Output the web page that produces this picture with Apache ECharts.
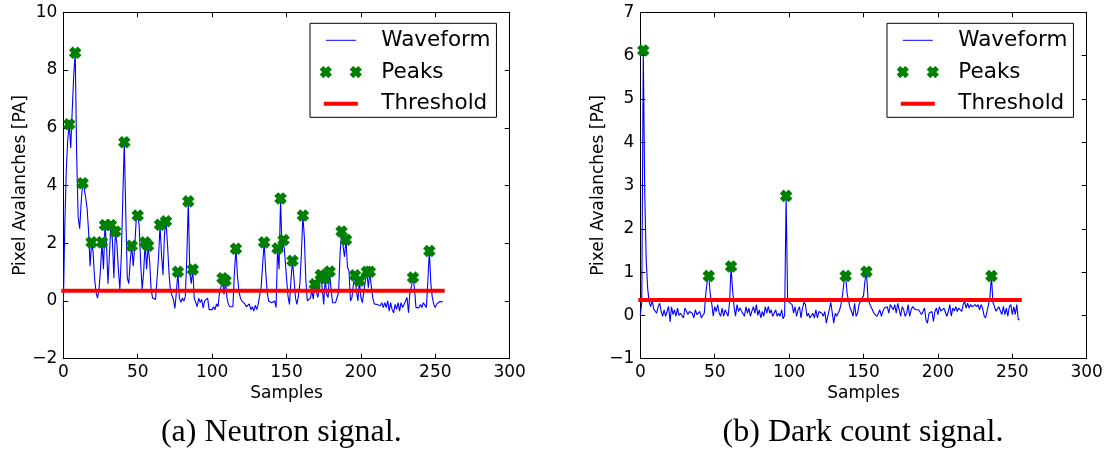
<!DOCTYPE html>
<html>
<head>
<meta charset="utf-8">
<script src="https://cdn.jsdelivr.net/npm/echarts@6/dist/echarts.min.js"></script>
<style>
html,body{margin:0;padding:0;background:#fff;}
#chart{width:1111px;height:451px;}
</style>
</head>
<body>
<div id="chart"></div>
<script>
// ---------- DATA ----------
// (a) Neutron signal waveform, samples 0..255
const neutronWave = [
  -0.3, 2.6, 4.5, 5.6, 6.12, 5.3, 6.6, 7.8, 8.6, 5.0,
  2.9, 2.5, 3.4, 4.08, 3.9, 3.6, 3.2, 2.4, 1.2, 2.03,
  1.7, 0.8, 0.3, 0.1, 0.4, 1.1, 2.03, 1.1, 2.63, 2.0,
  0.6, 1.6, 2.63, 2.1, 0.8, 2.41, 2.0, 1.1, 0.4, 1.6,
  3.6, 5.5, 3.0, 0.8, 0.6, 1.4, 1.91, 1.2, 1.9, 2.8,
  2.96, 2.6, 1.3, 0.4, 1.0, 2.03, 1.1, 1.91, 1.4, 0.4,
  0.1, 0.05, 0.05, 0.1, 1.5, 2.64, 1.6, 0.9, 2.3, 2.76,
  2.0, 1.0, 0.35, 0.2, 0.05, -0.26, 0.3, 1.01, 0.1, -0.05,
  0.1, 0.0, 0.15, 1.5, 3.45, 1.0, 0.6, 1.09, 0.1, 0.05,
  -0.2, 0.1, -0.05, 0.05, -0.25, 0.0, -0.05, 0.1, -0.3, -0.25,
  -0.3, -0.2, -0.3, -0.1, -0.2, 0.3, 0.5, 0.79, 0.23, 0.7,
  0.1, -0.12, -0.2, -0.25, -0.2, 1.0, 1.81, 0.9, 0.35, 0.1,
  0.0, -0.05, -0.1, -0.2, -0.25, -0.1, -0.3, -0.2, -0.35, -0.15,
  -0.3, -0.1, -0.1, 0.5, 1.3, 2.03, 1.04, 0.3, 0.0, -0.05,
  -0.06, -0.1, 0.0, -0.23, 1.82, 1.1, 3.55, 1.7, 2.11, 1.5,
  0.81, 0.17, -0.12, 0.7, 1.39, 0.81, 0.12, -0.12, 0.17, 0.6,
  1.62, 2.96, 2.2, 0.7, 0.0, -0.06, 0.1, 0.35, 0.06, 0.58,
  0.35, 0.12, 0.4, 0.9, 0.46, -0.12, 0.79, 0.23, 0.12, 1.02,
  0.35, -0.06, -0.12, -0.06, 0.12, 0.3, 1.62, 2.41, 1.9, 1.53,
  2.12, 1.16, 1.04, 0.0, 0.12, 0.6, 0.89, 0.35, 0.0, 0.70,
  0.12, -0.06, 0.35, 0.7, 1.01, 0.46, 1.01, 0.5, 0.1, -0.1,
  -0.15, -0.12, -0.12, -0.17, -0.06, -0.23, -0.06, -0.23, 0.0, -0.35,
  -0.06, -0.3, -0.41, -0.12, -0.29, -0.06, -0.35, -0.06, -0.23, -0.12,
  -0.06, 0.12, -0.41, 0.35, 0.5, 0.81, 0.45, -0.23, -0.17, -0.23,
  -0.12, -0.23, -0.06, -0.06, -0.23, 0.7, 1.73, 0.6, 0.12, -0.12,
  -0.23, -0.1, -0.06, -0.02, -0.03, -0.03
];
const neutronPeakIdx = [4, 8, 13, 19, 26, 28, 32, 35, 41, 46, 50, 55, 57, 65, 69, 77, 84, 87,
  107, 109, 116, 135, 144, 146, 148, 154, 161, 169, 173, 176, 179, 187, 190, 196, 199, 204, 206, 235, 246];
const neutronThreshold = 0.35;

// (b) Dark count signal waveform, samples 0..255
const darkWave = [
  0.0, 0.3, 6.12, 2.8, 1.25, 0.6, 0.3, 0.2, 0.36, 0.15,
  0.17, 0.05, 0.2, 0.28, 0.1, -0.02, 0.13, -0.02, 0.09, 0.21,
  -0.15, 0.2, 0.02, 0.13, -0.02, 0.17, 0.0, 0.05, 0.05, -0.06,
  0.17, 0.2, 0.02, 0.09, 0.05, 0.05, -0.06, 0.13, 0.02, 0.05,
  0.09, -0.06, 0.0, 0.05, 0.5, 0.8, 0.91, 0.5, 0.28, -0.02,
  0.2, 0.09, 0.25, 0.05, -0.02, 0.17, -0.02, 0.13, 0.09, -0.02,
  0.3, 1.13, 0.6, 0.2, -0.02, 0.25, 0.09, 0.17, 0.1, 0.13,
  -0.02, 0.2, 0.05, 0.17, -0.02, 0.1, 0.2, 0.05, 0.25, 0.0,
  0.13, -0.06, 0.09, -0.02, 0.2, 0.05, 0.21, 0.05, 0.13, -0.02,
  0.05, 0.13, -0.02, 0.05, -0.02, 0.13, -0.08, 0.0, 2.76, 0.36,
  0.3, 0.28, 0.25, 0.05, 0.2, -0.02, 0.13, 0.2, -0.06, 0.17,
  0.3, 0.25, -0.02, 0.05, -0.06, -0.02, 0.05, -0.06, 0.13, -0.06,
  0.09, 0.13, 0.05, -0.02, 0.09, -0.18, -0.02, 0.13, 0.3, 0.32,
  -0.18, 0.05, -0.02, -0.06, 0.13, 0.28, 0.5, 0.8, 0.91, 0.5,
  0.33, 0.17, 0.09, -0.02, 0.28, -0.02, 0.05, 0.25, 0.32, 0.4,
  0.45, 0.8, 1.01, 0.4, 0.28, 0.2, 0.13, 0.05, 0.09, -0.02,
  0.05, 0.13, -0.02, 0.09, 0.17, 0.13, 0.2, 0.05, 0.25, 0.28,
  0.13, 0.25, 0.05, 0.28, 0.13, -0.02, 0.2, 0.13, -0.02, 0.05,
  0.25, -0.02, 0.13, 0.2, 0.17, 0.13, 0.09, 0.13, 0.13, 0.02,
  0.09, 0.17, -0.1, -0.18, 0.05, 0.09, 0.09, -0.14, 0.09, 0.17,
  0.02, 0.2, 0.1, 0.13, 0.17, 0.15, -0.02, 0.09, 0.25, -0.02,
  0.17, 0.1, 0.2, 0.09, 0.17, 0.13, 0.09, 0.25, 0.32, 0.17,
  0.28, 0.17, 0.25, 0.2, 0.17, 0.25, 0.2, 0.25, 0.13, 0.25,
  0.17, 0.0, -0.06, 0.09, 0.25, 0.44, 0.91, 0.3, 0.2, 0.1,
  0.09, 0.2, 0.1, 0.02, 0.21, 0.02, 0.17, -0.02, 0.2, 0.25,
  0.02, 0.2, 0.02, 0.25, -0.1, -0.1
];
const darkPeakIdx = [2, 46, 61, 98, 138, 152, 236];
const darkThreshold = 0.355;

// axis ticks and labels
const xTickValues = [0, 50, 100, 150, 200, 250, 300];
const xTickLabels = ['0', '50', '100', '150', '200', '250', '300'];
const yTickValuesA = [-2, 0, 2, 4, 6, 8, 10];
const yTickLabelsA = ['\u22122', '0', '2', '4', '6', '8', '10'];
const yTickValuesB = [-1, 0, 1, 2, 3, 4, 5, 6, 7];
const yTickLabelsB = ['\u22121', '0', '1', '2', '3', '4', '5', '6', '7'];
const seriesNames = ['Waveform', 'Peaks', 'Threshold'];
const xAxisTitle = 'Samples';
const yAxisTitle = 'Pixel Avalanches [PA]';
const captions = ['(a) Neutron signal.', '(b) Dark count signal.'];

// ---------- STYLE / LAYOUT ----------
const FONT = 'DejaVu Sans';
const GRIDS = [
  {left: 63.3, top: 12.3, width: 446.4, height: 346.4},
  {left: 640.3, top: 12.3, width: 446.4, height: 346.4}
];
const X_MARK = 'path://M2.5,0 L5,2.5 L7.5,0 L10,2.5 L7.5,5 L10,7.5 L7.5,10 L5,7.5 L2.5,10 L0,7.5 L2.5,5 L0,2.5 Z';
const ICON_WAVE = 'path://M0,0 M56,14 M5.5,6.5 L35.5,6.5 L35.5,7.5 L5.5,7.5 Z';
const ICON_PEAKS = 'path://M0,0 M56,14 M3,2 L5.5,4.5 L8,2 L10.5,4.5 L8,7 L10.5,9.5 L8,12 L5.5,9.5 L3,12 L0.5,9.5 L3,7 L0.5,4.5 Z ' +
  'M33,2 L35.5,4.5 L38,2 L40.5,4.5 L38,7 L40.5,9.5 L38,12 L35.5,9.5 L33,12 L30.5,9.5 L33,7 L30.5,4.5 Z';
const ICON_TH = 'path://M0,0 M56,14 M3.5,5 L37.5,5 L37.5,9 L3.5,9 Z';

function lookup(vals, labels) {
  return function (v) {
    for (let i = 0; i < vals.length; i++) if (Math.abs(vals[i] - v) < 1e-9) return labels[i];
    return '';
  };
}
function rangeOf(vals) {
  return {min: vals[0], max: vals[vals.length - 1], interval: vals[1] - vals[0]};
}

function makeX(grid, main) {
  const r = rangeOf(xTickValues);
  return {
    type: 'value', gridIndex: grid, position: main ? 'bottom' : 'top',
    min: r.min, max: r.max, interval: r.interval,
    axisLine: {show: true, onZero: false, lineStyle: {color: '#000', width: 1}},
    axisTick: {show: true, inside: true, length: 5, lineStyle: {color: '#000', width: 1}},
    splitLine: {show: false}, minorTick: {show: false},
    axisLabel: {show: main, color: '#000', fontSize: 17, fontFamily: FONT, margin: 5,
      showMinLabel: true, showMaxLabel: true, hideOverlap: false,
      formatter: lookup(xTickValues, xTickLabels)},
    name: main ? xAxisTitle : '', nameLocation: 'middle', nameGap: 26, nameMoveOverlap: false,
    nameTextStyle: {color: '#000', fontSize: 17, fontFamily: FONT}
  };
}
function makeY(grid, main, vals, labels) {
  const r = rangeOf(vals);
  return {
    type: 'value', gridIndex: grid, position: main ? 'left' : 'right',
    min: r.min, max: r.max, interval: r.interval,
    axisLine: {show: true, onZero: false, lineStyle: {color: '#000', width: 1}},
    axisTick: {show: true, inside: true, length: 5, lineStyle: {color: '#000', width: 1}},
    splitLine: {show: false}, minorTick: {show: false},
    axisLabel: {show: main, color: '#000', fontSize: 17, fontFamily: FONT, margin: 6,
      showMinLabel: true, showMaxLabel: true, hideOverlap: false,
      formatter: lookup(vals, labels)},
    name: main ? yAxisTitle : '', nameLocation: 'middle', nameGap: grid === 0 ? 34.5 : 33.5,
    nameMoveOverlap: false,
    nameTextStyle: {color: '#000', fontSize: 17, fontFamily: FONT}
  };
}

function panelSeries(k, wave, peakIdx, th) {
  const xi = k * 2, yi = k * 2;
  return [
    {
      type: 'line', name: seriesNames[0], xAxisIndex: xi, yAxisIndex: yi,
      data: wave.map((v, i) => [i, v]),
      showSymbol: false, symbol: 'none', silent: true, z: 2,
      lineStyle: {color: '#0000ff', width: 1.1}, itemStyle: {color: '#0000ff'}
    },
    {
      type: 'scatter', name: seriesNames[1], xAxisIndex: xi, yAxisIndex: yi,
      data: peakIdx.map(i => [i, wave[i]]),
      symbol: X_MARK, symbolSize: 10, silent: true, z: 3,
      itemStyle: {color: '#008000', borderColor: '#008000', borderWidth: 1.8, opacity: 1}
    },
    {
      type: 'line', name: seriesNames[2], xAxisIndex: xi, yAxisIndex: yi,
      data: [[0, th], [wave.length - 1, th]],
      showSymbol: false, symbol: 'none', silent: true, z: 4,
      lineStyle: {color: '#ff0000', width: 4, cap: 'square'}, itemStyle: {color: '#ff0000'}
    }
  ];
}

function makeLegend(left) {
  return {
    left: left, top: 23.3, orient: 'vertical', selectedMode: false,
    padding: [6, 6, 2.5, 9.5], borderColor: '#000', borderWidth: 1, borderRadius: 0,
    backgroundColor: '#fff',
    itemWidth: 56, itemHeight: 14, itemGap: 9.75, symbolKeepAspect: true,
    textStyle: {fontSize: 21.5, fontFamily: FONT, color: '#000', lineHeight: 22},
    data: [
      {name: seriesNames[0], icon: ICON_WAVE, itemStyle: {color: '#0000ff', borderWidth: 0}},
      {name: seriesNames[1], icon: ICON_PEAKS, itemStyle: {color: '#008000', borderColor: '#008000', borderWidth: 1.6}},
      {name: seriesNames[2], icon: ICON_TH, itemStyle: {color: '#ff0000', borderWidth: 0}}
    ]
  };
}

const option = {
  animation: false,
  backgroundColor: '#fff',
  grid: GRIDS.map(g => Object.assign({containLabel: false, outerBoundsMode: 'none', show: false}, g)),
  xAxis: [makeX(0, true), makeX(0, false), makeX(1, true), makeX(1, false)],
  yAxis: [
    makeY(0, true, yTickValuesA, yTickLabelsA), makeY(0, false, yTickValuesA, yTickLabelsA),
    makeY(1, true, yTickValuesB, yTickLabelsB), makeY(1, false, yTickValuesB, yTickLabelsB)
  ],
  legend: [makeLegend(310), makeLegend(887)],
  series: [].concat(
    panelSeries(0, neutronWave, neutronPeakIdx, neutronThreshold),
    panelSeries(1, darkWave, darkPeakIdx, darkThreshold)
  ),
  graphic: [
    {type: 'text', x: 281.3, y: 433, silent: true,
      style: {text: captions[0], fontFamily: 'Liberation Serif', fontSize: 32, fill: '#000', align: 'center', verticalAlign: 'middle'}},
    {type: 'text', x: 863, y: 433, silent: true,
      style: {text: captions[1], fontFamily: 'Liberation Serif', fontSize: 32, fill: '#000', align: 'center', verticalAlign: 'middle'}}
  ]
};

const chart = echarts.init(document.getElementById('chart'), null, {renderer: 'canvas'});
chart.setOption(option);
</script>
</body>
</html>
